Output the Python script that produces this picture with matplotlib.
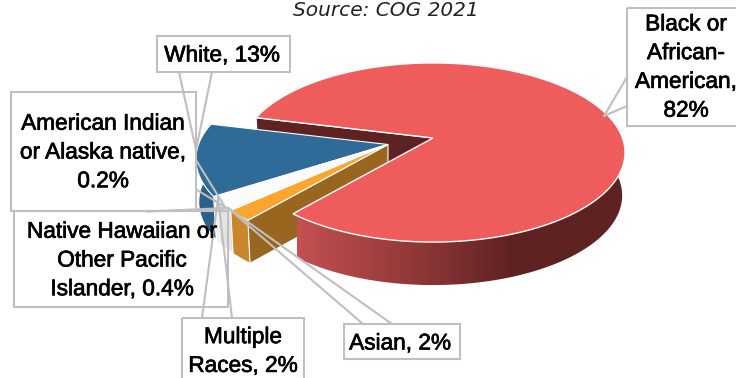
import numpy as np
import matplotlib
matplotlib.use('Agg')
import matplotlib.pyplot as plt
import matplotlib.patheffects as pe
from matplotlib.patches import Polygon, Rectangle
from matplotlib.colors import LinearSegmentedColormap

labels = ['Black or\nAfrican-\nAmerican,\n82%', 'Asian, 2%', 'Multiple\nRaces, 2%',
          'Native Hawaiian or\nOther Pacific\nIslander, 0.4%',
          'American Indian\nor Alaska native,\n0.2%', 'White, 13%']
values = [82, 2, 2, 0.4, 0.2, 13]
top_colors = ['#EE5C5C', '#F9A52E', '#FBFBFB', '#FBFBFB', '#FBFBFB', '#2F6B99']
cut_colors = ['#5F2222', '#98661F', '#E8E8E8', '#E8E8E8', '#E8E8E8', '#1F4A6B']
side_colors = ['#5F2222', '#C9862B', '#E4E4E4', '#E4E4E4', '#E4E4E4', '#2A618C']

# pie projection, in pixels
A, B, K = 189.5, 87.2, 0.162
DEPTH = 43
SHRINK = 0.985  # lower rim is a little narrower than the upper one
START = 166
LINE = '#BFBFBF'
TEXT = '#000000'

def rim(ax_x, ax_y, t, r=1.0):
    t = np.radians(t)
    w = 1 + K * r * np.sin(t)
    return ax_x + A * r * np.cos(t) / w, ax_y - B * r * np.sin(t) / w

fig = plt.figure(figsize=(7.36, 3.78), dpi=100)
ax = fig.add_axes([0, 0, 1, 1])
ax.set_xlim(0, 736)
ax.set_ylim(378, 0)
ax.axis('off')

# slice angles, clockwise from the upper left
shares = np.array(values) / sum(values) * 360
ends = START - np.cumsum(shares)
starts = ends + shares

red_c = (433, 138)
rest_c = (388, 144.5)

def top_poly(c, a0, a1):
    t = np.linspace(a0, a1, 200)
    x, y = rim(c[0], c[1], t)
    return np.r_[[c], np.c_[x, y]]

def side_poly(c, a0, a1):
    t = np.linspace(a0, a1, 200)
    x, y = rim(c[0], c[1], t)
    low_x = c[0] + (x - c[0]) * SHRINK
    return np.r_[np.c_[x, y], np.c_[low_x, y + DEPTH][::-1]]

def cut_poly(c, a):
    x, y = rim(c[0], c[1], a)
    low_x = c[0] + (x - c[0]) * SHRINK
    return [(x, y), c, (c[0], c[1] + DEPTH), (low_x, y + DEPTH)]

# back cut face of the big slice
ax.add_patch(Polygon(cut_poly(red_c, starts[0]), fc=cut_colors[0], ec='white', lw=0.8, zorder=2))

# small slices and the blue one, outer walls first
for i in [5, 4, 3, 2, 1]:
    ax.add_patch(Polygon(side_poly(rest_c, starts[i], ends[i]), fc=side_colors[i], ec='white', lw=0.6, zorder=3))
ax.add_patch(Polygon(cut_poly(rest_c, starts[1]), fc=cut_colors[1], ec='white', lw=0.8, zorder=3.5))
for i in [5, 4, 3, 2, 1]:
    ax.add_patch(Polygon(top_poly(rest_c, starts[i], ends[i]), fc=top_colors[i], ec='white', lw=0.8, zorder=4))

# big slice wall with its shading
wall = Polygon(side_poly(red_c, ends[0] + 360, 360 + 15), fc='none', ec='none', zorder=5)
ax.add_patch(wall)
shade = LinearSegmentedColormap.from_list('wall', [(0, '#C45051'), (0.4, '#8A3535'), (0.65, '#5F2222'), (1, '#5F2222')])
im = ax.imshow(np.linspace(0, 1, 256)[None, :], cmap=shade, extent=(297, 626, 378, 0),
               aspect='auto', zorder=5)
im.set_clip_path(wall)
ax.set_xlim(0, 736)
ax.set_ylim(378, 0)
ax.add_patch(Polygon(top_poly(red_c, starts[0], ends[0]), fc=top_colors[0], ec='white', lw=1, zorder=6))

# callouts: box, then the two lines running to the slice
boxes = [(627, 8, 120, 118), (344, 324, 116, 35), (182, 318, 122, 70),
         (14, 211, 214, 96), (11, 92, 185, 119), (157, 36, 133, 36)]
tips = [(604, 116), (228, 208), (218, 198), (227, 208), (225, 207), (196, 150)]
roots = [((627, 77), (627, 106)), ((363, 324), (392, 324)), ((202, 318), (232, 318)),
         ((147, 211.5), (193, 211)), ((196, 160), (197, 190)), ((179, 72), (212, 72))]
centers = [(686, 67), (400, 343), (243, 351), (122, 260), (103, 152), (222, 55)]
for i in range(6):
    b = boxes[i]
    ax.add_patch(Rectangle(b[:2], b[2], b[3], fc='none', ec=LINE, lw=1.5, zorder=7))
    for r in roots[i]:
        ax.plot([r[0], tips[i][0]], [r[1], tips[i][1]], color=LINE, lw=1.5, zorder=7)
    ax.text(centers[i][0], centers[i][1], labels[i], ha='center', va='center', fontsize=16.3,
            family='Liberation Sans', color=TEXT, linespacing=1.32, zorder=8,
            path_effects=[pe.withStroke(linewidth=0.5, foreground=TEXT)])

ax.text(386, 16, 'Source: COG 2021', ha='center', va='baseline', fontsize=14.5, style='italic',
        family='DejaVu Sans', color='#222222', zorder=8)

fig.savefig('out.png', dpi=100)
